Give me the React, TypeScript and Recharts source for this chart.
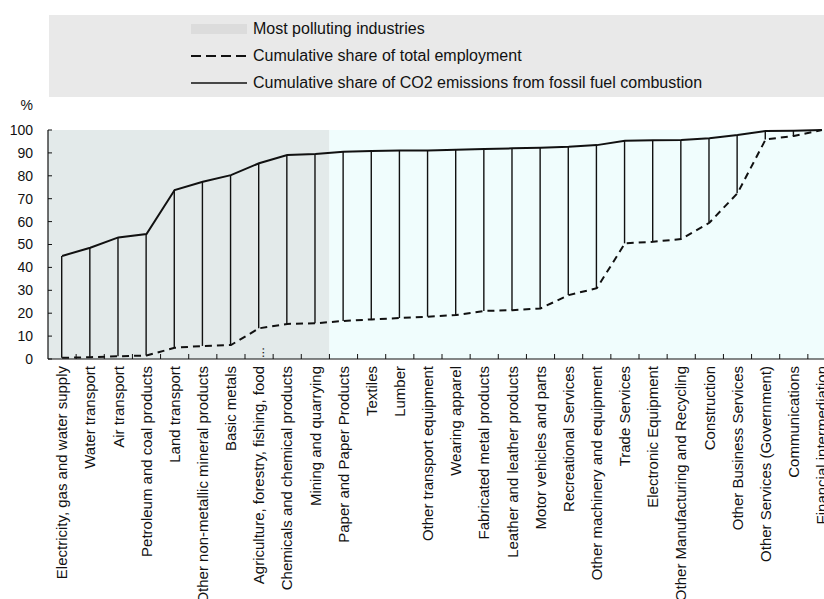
import React from "react";
import { ComposedChart, Bar, Line, XAxis, YAxis, ReferenceArea, Legend } from "recharts";

// industries ordered by cumulative CO2 share
const industries = [
  "Electricity, gas and water supply",
  "Water transport",
  "Air transport",
  "Petroleum and coal products",
  "Land transport",
  "Other non-metallic mineral products",
  "Basic metals",
  "Agriculture, forestry, fishing, food...",
  "Chemicals and chemical products",
  "Mining and quarrying",
  "Paper and Paper Products",
  "Textiles",
  "Lumber",
  "Other transport equipment",
  "Wearing apparel",
  "Fabricated metal products",
  "Leather and leather products",
  "Motor vehicles and parts",
  "Recreational Services",
  "Other machinery and equipment",
  "Trade Services",
  "Electronic Equipment",
  "Other Manufacturing and Recycling",
  "Construction",
  "Other Business Services",
  "Other Services (Government)",
  "Communications",
  "Financial intermediation",
];

const co2Share = [
  45.0, 48.6, 53.1, 54.6, 73.8, 77.4, 80.3, 85.5, 89.1, 89.5,
  90.5, 90.8, 91.0, 91.1, 91.4, 91.7, 92.0, 92.3, 92.7, 93.4,
  95.3, 95.5, 95.6, 96.4, 97.8, 99.6, 99.7, 100,
];

const employmentShare = [
  0.5, 0.8, 1.2, 1.5, 4.9, 5.7, 6.1, 13.4, 15.3, 15.6,
  16.6, 17.3, 17.9, 18.5, 19.2, 21.0, 21.3, 22.1, 27.9, 30.9,
  50.5, 51.2, 52.4, 59.5, 72.4, 95.9, 97.4, 100,
];

const yTicks = [0, 10, 20, 30, 40, 50, 60, 70, 80, 90, 100];
const pollutingCount = 10;

const legendItems = [
  { label: "Most polluting industries", kind: "area" },
  { label: "Cumulative share of total employment", kind: "dashed" },
  { label: "Cumulative share of CO2 emissions from fossil fuel combustion", kind: "solid" },
];

const data = industries.map((name, i) => ({
  name,
  co2: co2Share[i],
  emp: employmentShare[i],
  gap: [employmentShare[i], co2Share[i]],
}));

const FONT = "'Liberation Sans', Arial, Helvetica, sans-serif";
const W = 860;
const H = 640;
const MARGIN = { top: 130, right: 24, bottom: 0, left: 0 };
const Y_AXIS_W = 48;
const X_AXIS_H = 281;
const PLOT_W = W - MARGIN.left - MARGIN.right - Y_AXIS_W;

const XTick = (props: any) => {
  const { x, y, payload } = props;
  const half = PLOT_W / industries.length / 2;
  const label: string = payload.value;
  const trail = label.endsWith("...") ? "..." : "";
  const main = trail ? label.slice(0, -3) : label;
  const ty = y + 7;
  return (
    <g>
      <line x1={x + half} x2={x + half} y1={y} y2={y - 5} stroke="#111" strokeWidth={1} />
      <text
        x={x}
        y={ty}
        dy="0.35em"
        transform={`rotate(-90, ${x}, ${ty})`}
        textAnchor="end"
        fontSize={15}
        fontFamily={FONT}
        fill="#111"
      >
        {main}
      </text>
      {trail && (
        <text
          x={x}
          y={y - 1}
          dy="0.35em"
          transform={`rotate(-90, ${x}, ${y - 1})`}
          textAnchor="start"
          fontSize={13}
          fontFamily={FONT}
          fill="#111"
        >
          {trail}
        </text>
      )}
    </g>
  );
};

const LegendBox = () => (
  <div style={{ position: "relative", width: "100%", height: 82, fontFamily: FONT, fontSize: 16, color: "#111" }}>
    {legendItems.map((item, i) => (
      <div
        key={item.label}
        style={{ position: "absolute", left: 142, top: 3 + i * 27, height: 22, display: "flex", alignItems: "center", whiteSpace: "nowrap" }}
      >
        <svg width={56} height={12} style={{ display: "block" }}>
          {item.kind === "area" && <rect x={0} y={1} width={56} height={10} fill="#dcdcdc" />}
          {item.kind === "dashed" && (
            <line x1={0} x2={56} y1={6} y2={6} stroke="#111" strokeWidth={2} strokeDasharray="10 5" />
          )}
          {item.kind === "solid" && <line x1={0} x2={56} y1={6} y2={6} stroke="#111" strokeWidth={1.6} />}
        </svg>
        <span style={{ marginLeft: 6 }}>{item.label}</span>
      </div>
    ))}
  </div>
);

export default function App() {
  return (
    <div style={{ position: "fixed", left: 0, top: 0, width: 824, height: 599, overflow: "hidden", background: "#fff" }}>
      <ComposedChart width={W} height={H} data={data} margin={MARGIN}>
        <ReferenceArea
          x1={industries[0]}
          x2={industries[pollutingCount - 1]}
          y1={0}
          y2={100}
          fill="#e3eaea"
          fillOpacity={1}
          stroke="none"
        />
        <ReferenceArea
          x1={industries[pollutingCount]}
          x2={industries[industries.length - 1]}
          y1={0}
          y2={100}
          fill="#f0fdfd"
          fillOpacity={1}
          stroke="none"
        />
        <XAxis
          dataKey="name"
          interval={0}
          height={X_AXIS_H}
          tick={<XTick />}
          tickLine={false}
          tickSize={0}
          tickMargin={0}
          axisLine={{ stroke: "#111", strokeWidth: 1.2 }}
        />
        <YAxis
          domain={[0, 100]}
          ticks={yTicks}
          width={Y_AXIS_W}
          tickSize={-4}
          tickMargin={19}
          tickLine={{ stroke: "#111" }}
          axisLine={{ stroke: "#111", strokeWidth: 1.2 }}
          tick={{ fontSize: 14, fontFamily: FONT, fill: "#111" }}
          label={{
            content: ({ viewBox }: any) => (
              <text x={viewBox.x + viewBox.width - 15} y={viewBox.y - 20} textAnchor="end" fontSize={14} fontFamily={FONT} fill="#111">
                %
              </text>
            ),
          }}
        />
        <Legend
          layout="vertical"
          align="center"
          verticalAlign="middle"
          content={<LegendBox />}
          wrapperStyle={{ top: 15, left: 49, width: 800, height: 82, background: "#e9e9e9" }}
        />
        <Bar dataKey="gap" barSize={1.4} fill="#111" isAnimationActive={false} />
        <Line type="linear" dataKey="emp" stroke="#111" strokeWidth={2} strokeDasharray="7 5" dot={false} isAnimationActive={false} />
        <Line type="linear" dataKey="co2" stroke="#111" strokeWidth={2} dot={false} isAnimationActive={false} />
      </ComposedChart>
    </div>
  );
}
